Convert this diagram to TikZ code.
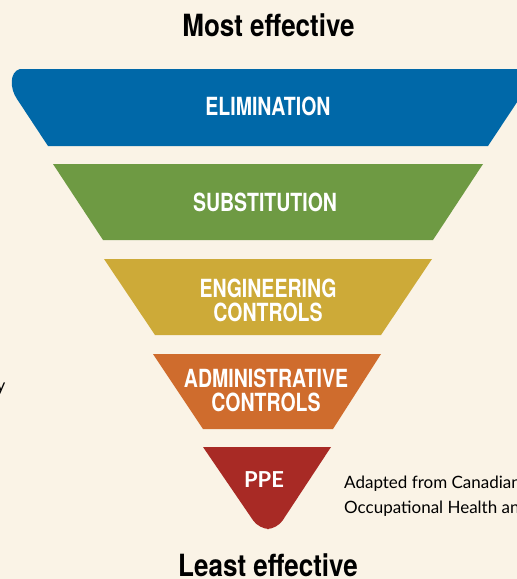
\documentclass[tikz,border=0pt]{standalone}
\usepackage{fontspec}
\setmainfont{Lato}
\newfontfamily\headfont[FakeStretch=0.85]{TeX Gyre Heros}
\newfontfamily\bandfont[FakeStretch=0.78]{TeX Gyre Heros}
\definecolor{paper}{HTML}{FAF3E6}
\definecolor{elimblue}{HTML}{0068A8}
\definecolor{substgreen}{HTML}{6E9A43}
\definecolor{engingold}{HTML}{CDAA38}
\definecolor{adminorange}{HTML}{CF6C2D}
\definecolor{ppered}{HTML}{A82A25}
\tikzset{
  bandlabel/.style={text=white,inner sep=0pt,align=center,
    font=\bandfont\bfseries\fontsize{25}{24}\selectfont},
  heading/.style={inner sep=0pt,anchor=base,
    font=\headfont\bfseries\fontsize{30.6}{32}\selectfont},
  note/.style={inner sep=0pt,anchor=base west,align=left,
    font=\fontsize{17}{25}\selectfont}
}
\begin{document}
\begin{tikzpicture}[x=1pt,y=-1pt]
\useasboundingbox (0,0) rectangle (517,579);
\fill[paper] (0,0) rectangle (517,579);
\clip (0,0) rectangle (517,579);
% the five bands, widest on top
\fill[elimblue] (48,146) -- (17,99) .. controls (10,89) and (9,72) .. (20,69) -- (539,69) -- (488,146) -- cycle;
\fill[substgreen] (103,240) -- (53,164) -- (483,164) -- (433,240) -- cycle;
\fill[engingold] (155,335) -- (104,259) -- (432,259) -- (381,335) -- cycle;
\fill[adminorange] (203,429) -- (153,354) -- (381,354) -- (333,429) -- cycle;
\fill[ppered] (203,447) -- (331,447) [rounded corners=10pt]-- (277,529) -- (259,529) [sharp corners]-- cycle;
\node[bandlabel] (elim) at (268,106) {ELIMINATION};
\node[bandlabel] (subst) at (265,202) {SUBSTITUTION};
\node[bandlabel] (engin) at (268,300) {ENGINEERING\\CONTROLS};
\node[bandlabel] (admin) at (266,390.5) {ADMINISTRATIVE\\CONTROLS};
\node[inner sep=0pt,text=white,font=\bfseries\fontsize{22}{24}\selectfont] (ppe) at (264,480) {PPE};
% top and bottom captions
\node[heading] (most) at (268.5,36) {Most effective};
\node[heading] (least) at (268,576) {Least effective};
\node[note] (source) at (344,513) {Adapted from Canadian\\Occupational Health and};
\node[inner sep=0pt,anchor=base east,font=\fontsize{17}{20}\selectfont] (edge) at (5.5,391) {y};
\end{tikzpicture}
\end{document}
